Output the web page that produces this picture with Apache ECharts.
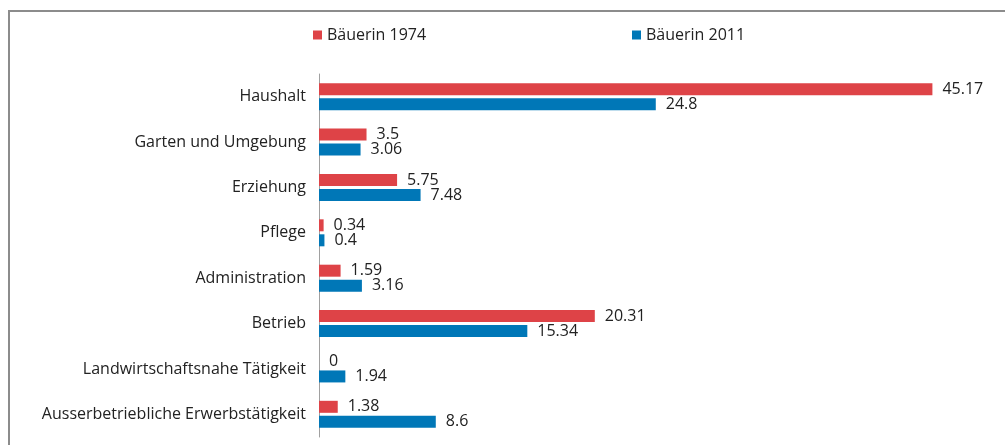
<!DOCTYPE html>
<html>
<head>
<meta charset="utf-8">
<script src="https://cdn.jsdelivr.net/npm/echarts@6/dist/echarts.min.js"></script>
<style>
html,body{margin:0;padding:0;background:#fff;}
#frame{position:absolute;left:8px;top:10px;width:997px;height:435px;border-top:2px solid #8c8c8c;border-left:2px solid #8c8c8c;box-sizing:border-box;}
#chart{position:absolute;left:0;top:0;width:1005px;height:445px;}
</style>
</head>
<body>
<div id="frame"></div>
<div id="chart"></div>
<script>
const categories = ["Haushalt","Garten und Umgebung","Erziehung","Pflege","Administration","Betrieb","Landwirtschaftsnahe Tätigkeit","Ausserbetriebliche Erwerbstätigkeit"];
const seriesNames = ["Bäuerin 1974","Bäuerin 2011"];
const values1974 = [45.17,3.5,5.75,0.34,1.59,20.31,0,1.38];
const values2011 = [24.8,3.06,7.48,0.4,3.16,15.34,1.94,8.6];

const font = "'Open Sans', 'Noto Sans', sans-serif";
const chart = echarts.init(document.getElementById('chart'), null, {renderer:'canvas'});
const legendCommon = {
  icon:'rect', itemWidth:9, itemHeight:9, top:22, padding:5,
  textStyle:{fontFamily:font,fontSize:16,color:'#222'}
};
chart.setOption({
  animation:false,
  legend:[
    Object.assign({left:308, data:[seriesNames[0]]}, legendCommon),
    Object.assign({left:627, data:[seriesNames[1]]}, legendCommon)
  ],
  grid:{left:319,right:7,top:74,bottom:8,containLabel:false},
  xAxis:{type:'value',min:0,max:50,show:false},
  yAxis:{
    type:'category',inverse:true,data:categories,
    axisLine:{show:true,lineStyle:{color:'#a0a0a0',width:1}},
    axisTick:{show:false},
    axisLabel:{fontFamily:font,fontSize:16,color:'#222',margin:13}
  },
  series:[
    {name:seriesNames[0],type:'bar',data:values1974,barWidth:12,barGap:'25%',
     itemStyle:{color:'#de4347'},
     label:{show:true,position:'right',distance:10,fontFamily:font,fontSize:16,color:'#222'}},
    {name:seriesNames[1],type:'bar',data:values2011,barWidth:12,barGap:'25%',
     itemStyle:{color:'#0077b7'},
     label:{show:true,position:'right',distance:10,fontFamily:font,fontSize:16,color:'#222'}}
  ]
});
</script>
</body>
</html>
